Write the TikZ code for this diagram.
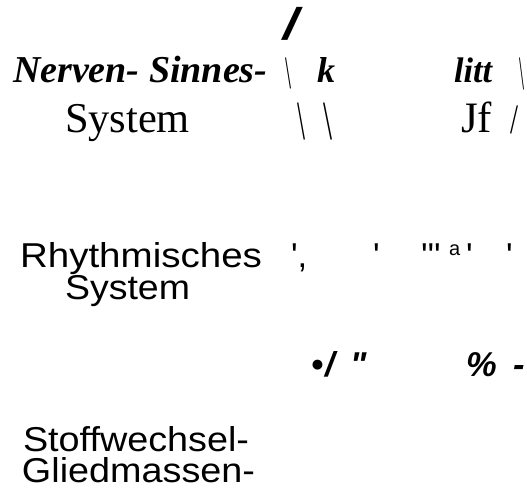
\documentclass[tikz,border=0pt]{standalone}
\usepackage{fontspec}
\usepackage{graphicx}
\newfontfamily\serifA{Liberation Serif}
\newfontfamily\sansA{Liberation Sans}
\newcommand\fser{\serifA\fontsize{36bp}{40bp}\selectfont}
\newcommand\fserL{\serifA\fontsize{42.5bp}{46bp}\selectfont}
\newcommand\fserbi{\serifA\bfseries\itshape\fontsize{38bp}{42bp}\selectfont}
\newcommand\fsan{\sansA\fontsize{34.5bp}{38bp}\selectfont}
\newcommand\fsanbi{\sansA\bfseries\itshape\fontsize{34.5bp}{38bp}\selectfont}
\newcommand\fitbox[3]{\resizebox*{#1bp}{#2bp}{#3}}
\newcommand\fitw[2]{\resizebox{#1bp}{\height}{#2}}
\tikzset{txt/.style={inner sep=0pt, outer sep=0pt, anchor=base west},
         glyph/.style={inner sep=0pt, outer sep=0pt, anchor=north west}}
\begin{document}
\begin{tikzpicture}[x=1bp,y=-1bp]
\fill[white] (0,0) rectangle (527,490);
\useasboundingbox (0,0) rectangle (527,490);
% row 1
\node[glyph] (topslash) at (283,7) {\fitbox{15}{33}{\fsanbi /}};
\node[txt] (nerven) at (13,83) {\fserbi Nerven- Sinnes-};
\node[glyph] (bsa) at (285,58) {\fitbox{6}{31}{\fser\textbackslash}};
\node[glyph] (kk) at (317,58) {\fitbox{18}{25}{\fserbi k}};
\node[glyph] (litt) at (454,58) {\fitbox{38}{25}{\fserbi litt}};
\node[glyph] (bsb) at (519,58) {\fitbox{5}{32}{\fser\textbackslash}};
% row 2
\node[txt] (sys1) at (65,133) {\fitw{125}{\fserL System}};
\node[glyph] (bsc) at (297,103) {\fitbox{8}{37}{\fser\textbackslash}};
\node[glyph] (bsd) at (323,103) {\fitbox{9}{37}{\fser\textbackslash}};
\node[glyph] (jf) at (461,102) {\fitbox{31}{31}{\fserL Jf}};
\node[glyph] (sla) at (510,106) {\fitbox{8}{28}{\fser /}};
% row 3
\node[txt] (rhythm) at (20,267) {\fitw{242}{\fsan Rhythmisches}};
\node[txt] (sys2) at (65,299) {\fitw{125}{\fsan System}};
\node[txt] (tka) at (291,267) {\fsan ',};
\node[txt] (tkb) at (373,267) {\fsan '};
\node[txt] (tkc) at (421,267) {\fsan '''};
\node[txt] (aa) at (449,255) {\sansA\fontsize{20bp}{22bp}\selectfont a};
\node[txt] (tkd) at (466,267) {\fsan '};
\node[txt] (tke) at (506,267) {\fsan '};
% row 4
\node[txt] (bul) at (311,376) {\fsanbi •};
\node[txt] (slb) at (325,376) {\fsanbi /};
\node[txt] (quo) at (350,376) {\fsanbi "};
\node[txt] (pct) at (466,376) {\fsanbi \%};
\node[txt] (hyp) at (513,376) {\fsanbi -};
% row 5
\node[txt] (stoff) at (23,451) {\fitw{226}{\fsan Stoffwechsel-}};
\node[txt] (glied) at (22,482) {\fitw{233}{\fsan Gliedmassen-}};
\end{tikzpicture}
\end{document}
